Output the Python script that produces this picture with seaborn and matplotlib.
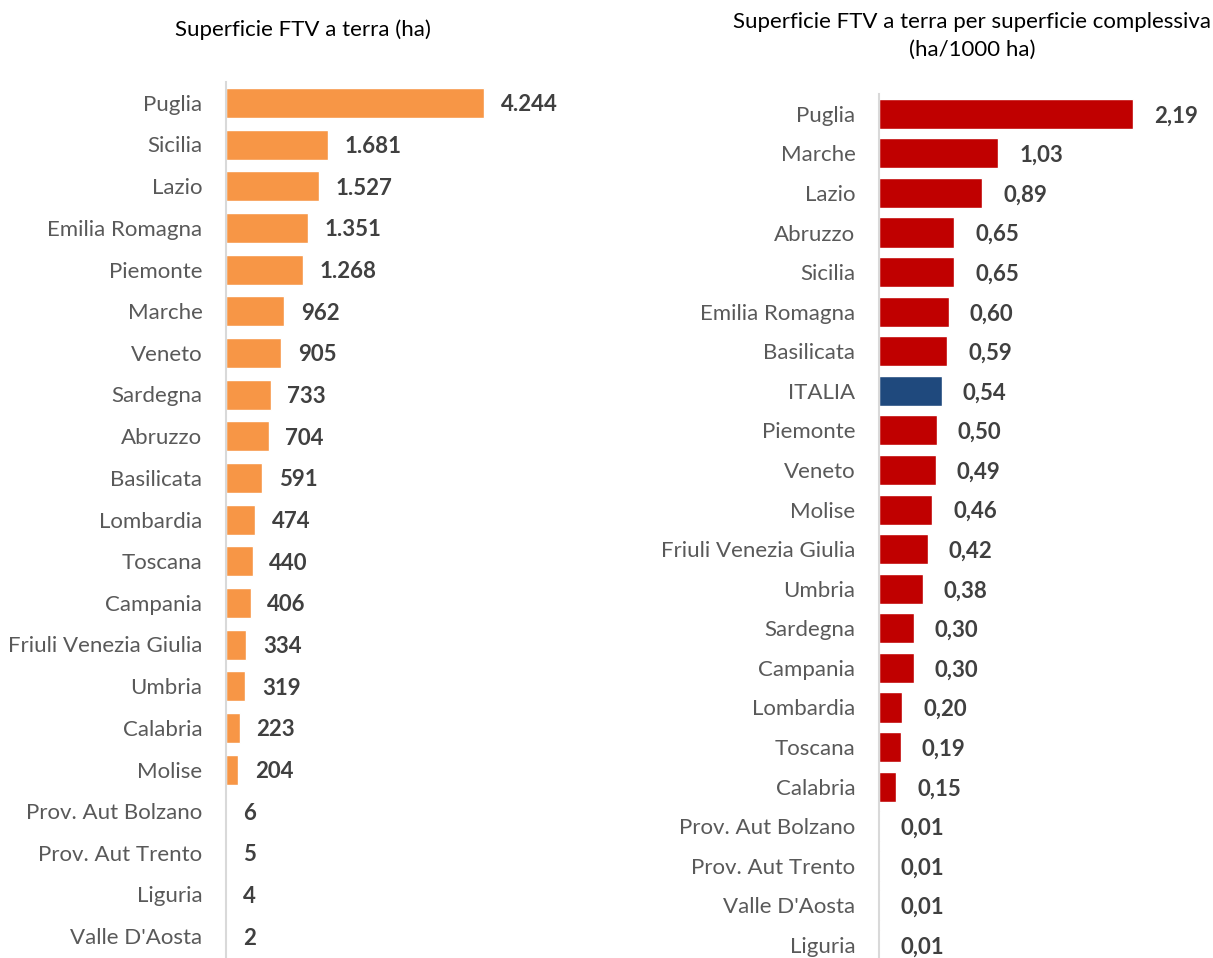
import matplotlib
matplotlib.use("Agg")
import matplotlib.pyplot as plt
import seaborn as sns
import pandas as pd

# Superficie FTV a terra (ha) per regione
regioni_ha = ["Puglia", "Sicilia", "Lazio", "Emilia Romagna", "Piemonte", "Marche",
              "Veneto", "Sardegna", "Abruzzo", "Basilicata", "Lombardia", "Toscana",
              "Campania", "Friuli Venezia Giulia", "Umbria", "Calabria", "Molise",
              "Prov. Aut Bolzano", "Prov. Aut Trento", "Liguria", "Valle D'Aosta"]
superficie_ha = [4244, 1681, 1527, 1351, 1268, 962, 905, 733, 704, 591, 474, 440,
                 406, 334, 319, 223, 204, 6, 5, 4, 2]

# Superficie FTV a terra per 1000 ha di superficie complessiva
regioni_rel = ["Puglia", "Marche", "Lazio", "Abruzzo", "Sicilia", "Emilia Romagna",
               "Basilicata", "ITALIA", "Piemonte", "Veneto", "Molise",
               "Friuli Venezia Giulia", "Umbria", "Sardegna", "Campania", "Lombardia",
               "Toscana", "Calabria", "Prov. Aut Bolzano", "Prov. Aut Trento",
               "Valle D'Aosta", "Liguria"]
superficie_rel = [2.19, 1.03, 0.89, 0.65, 0.65, 0.60, 0.59, 0.54, 0.50, 0.49, 0.46,
                  0.42, 0.38, 0.30, 0.30, 0.20, 0.19, 0.15, 0.01, 0.01, 0.01, 0.01]

title_ha = "Superficie FTV a terra (ha)"
title_rel = "Superficie FTV a terra per superficie complessiva\n(ha/1000 ha)"

ORANGE = "#F79646"
RED = "#C00000"
BLUE = "#1F497D"
TICK_COLOR = "#595959"
VALUE_COLOR = "#404040"
AXIS_COLOR = "#D9D9D9"

sns.set_theme(style="white")
plt.rcParams["font.family"] = ["Lato", "DejaVu Sans"]

fig = plt.figure(figsize=(12.13, 9.58), dpi=100)
W, H = 1213, 958

ax1 = fig.add_axes([226 / W, 1 - 957 / H, 374 / W, 875 / H])
ax2 = fig.add_axes([879 / W, 0.0, 334 / W, 864 / H])

df1 = pd.DataFrame({"regione": regioni_ha, "valore": superficie_ha})
df2 = pd.DataFrame({"regione": regioni_rel, "valore": superficie_rel})

sns.barplot(data=df1, y="regione", x="valore", orient="h", color=ORANGE,
            width=0.72, saturation=1, ax=ax1)
pal2 = {r: (BLUE if r == "ITALIA" else RED) for r in regioni_rel}
sns.barplot(data=df2, y="regione", x="valore", hue="regione", palette=pal2,
            orient="h", width=0.76, saturation=1, legend=False, ax=ax2)


def fmt_int(v):
    return f"{v:,}".replace(",", ".")


def fmt_dec(v):
    return f"{v:.2f}".replace(".", ",")


for ax, vals, fmt, off in ((ax1, superficie_ha, fmt_int, 12), (ax2, superficie_rel, fmt_dec, 15)):
    for i, v in enumerate(vals):
        ax.annotate(fmt(v), xy=(v, i), xytext=(off, -1.5), textcoords="offset points",
                    ha="left", va="center", fontsize=16, fontweight="bold",
                    color=VALUE_COLOR)

ax1.set_xlim(0, 374 / 0.0608)
ax1.set_ylim(len(regioni_ha) - 0.5, -0.5)
ax2.set_xlim(0, 334 / 116.0)
ax2.set_ylim(21.33, -0.5)

for ax in (ax1, ax2):
    ax.set_xlabel("")
    ax.set_ylabel("")
    ax.set_xticks([])
    for s in ("top", "right", "bottom"):
        ax.spines[s].set_visible(False)
    ax.spines["left"].set_color(AXIS_COLOR)
    ax.spines["left"].set_linewidth(1.5)
    ax.tick_params(axis="y", length=0, pad=17, labelsize=16, labelcolor=TICK_COLOR)
    ax.patch.set_alpha(0)

fig.text(303 / W, 1 - 30 / H, title_ha, ha="center", va="center", fontsize=16, color="black")
fig.text(972 / W, 1 - 36 / H, title_rel, ha="center", va="center", fontsize=16,
         color="black", linespacing=1.45)

fig.savefig("out.png", dpi=100)
